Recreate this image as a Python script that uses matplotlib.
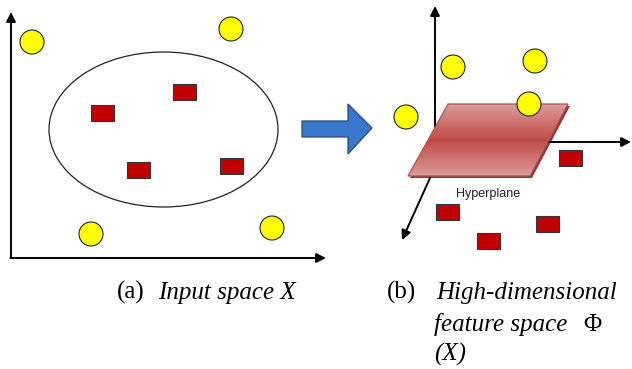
import numpy as np
import matplotlib.pyplot as plt
from matplotlib.patches import Circle, Rectangle, Ellipse, Polygon
from matplotlib.colors import LinearSegmentedColormap

# input space (left panel), pixel coordinates
circles_a = [(32, 42), (231, 29), (91, 234), (272, 228)]
rects_a = [(102.5, 112.5), (184, 91.5), (138, 170), (231, 166)]

# feature space (right panel)
circles_b = [(453, 67), (535, 61), (529, 104), (406, 117)]
rects_b = [(570, 158), (447, 212), (488, 241), (547, 224)]
plane = [(448, 104), (568, 104), (530, 176), (408, 176)]

caption_a = ["(a)", "Input space X"]
caption_b = ["(b)", "High-dimensional", "feature space", "Φ", "(X)"]

fig = plt.figure(figsize=(6.32, 3.69), dpi=100)
ax = fig.add_axes([0, 0, 1, 1])

R = 12
RW, RH = 23, 16


def arrow(x0, y0, x1, y1):
    ax.annotate('', xy=(x1, y1), xytext=(x0, y0),
                arrowprops=dict(arrowstyle='-|>', color='black', lw=1.4,
                                mutation_scale=14, shrinkA=0, shrinkB=0))


def draw_points(circles, rects):
    for x, y in circles:
        ax.add_patch(Circle((x, y), R, fc='#ffff00', ec='#222222', lw=0.8, zorder=5))
    for x, y in rects:
        ax.add_patch(Rectangle((x - RW / 2 + 1, y - RH / 2 + 1), RW, RH,
                               fc='#888888', ec='none', alpha=0.5, zorder=4))
        ax.add_patch(Rectangle((x - RW / 2, y - RH / 2), RW, RH,
                               fc='#c00000', ec='#333333', lw=0.8, zorder=5))


# left panel axes
arrow(11, 258, 11, 12)
arrow(10.3, 258, 326, 258)
ax.add_patch(Ellipse((163.5, 129.5), 229, 155, fc='none', ec='#222222', lw=0.9))
draw_points(circles_a, rects_a)

# blue arrow
blue = [(302, 121), (348, 121), (348, 104), (372, 128), (348, 154), (348, 137), (302, 137)]
ax.add_patch(Polygon(blue, closed=True, fc='#3877cb', ec='#2a4a78', lw=0.9))

# right panel axes
arrow(435, 128, 435, 6)
arrow(547, 142, 631, 142)
arrow(430, 178, 402, 240)

# hyperplane with gradient
ax.add_patch(Polygon([(x + 2, y + 2) for x, y in plane], closed=True,
                     fc='#8a3a38', ec='none', zorder=2))
grad = np.abs(np.linspace(-1, 1, 100)).reshape(-1, 1)
cmap = LinearSegmentedColormap.from_list('pl', ['#bf4b49', '#dc9b99'])
img = ax.imshow(grad, cmap=cmap, extent=[408, 568, 176, 104], aspect='auto',
                zorder=3, interpolation='bilinear')
poly = Polygon(plane, closed=True, fc='none', ec='#b35452', lw=0.9, zorder=3)
ax.add_patch(poly)
img.set_clip_path(poly)

draw_points(circles_b, rects_b)
ax.text(488, 197, 'Hyperplane', fontsize=9, family='Liberation Sans',
        ha='center', va='baseline', color='#222222')

# captions
serif = 'Liberation Serif'
fs = 18
ax.text(117, 299, caption_a[0], fontsize=fs, family=serif, va='baseline')
ax.text(158, 299, caption_a[1], fontsize=fs, family=serif, style='italic', va='baseline')
ax.text(387, 299, caption_b[0], fontsize=fs, family=serif, va='baseline')
ax.text(436, 299, caption_b[1], fontsize=fs, family=serif, style='italic', va='baseline')
ax.text(434, 331, caption_b[2], fontsize=fs, family=serif, style='italic', va='baseline')
ax.text(583, 331, caption_b[3], fontsize=fs, family=serif, va='baseline')
ax.text(434, 361, caption_b[4], fontsize=fs, family=serif, style='italic', va='baseline')

ax.set_xlim(0, 632)
ax.set_ylim(369, 0)
ax.axis('off')

fig.savefig('out.png', dpi=100)
